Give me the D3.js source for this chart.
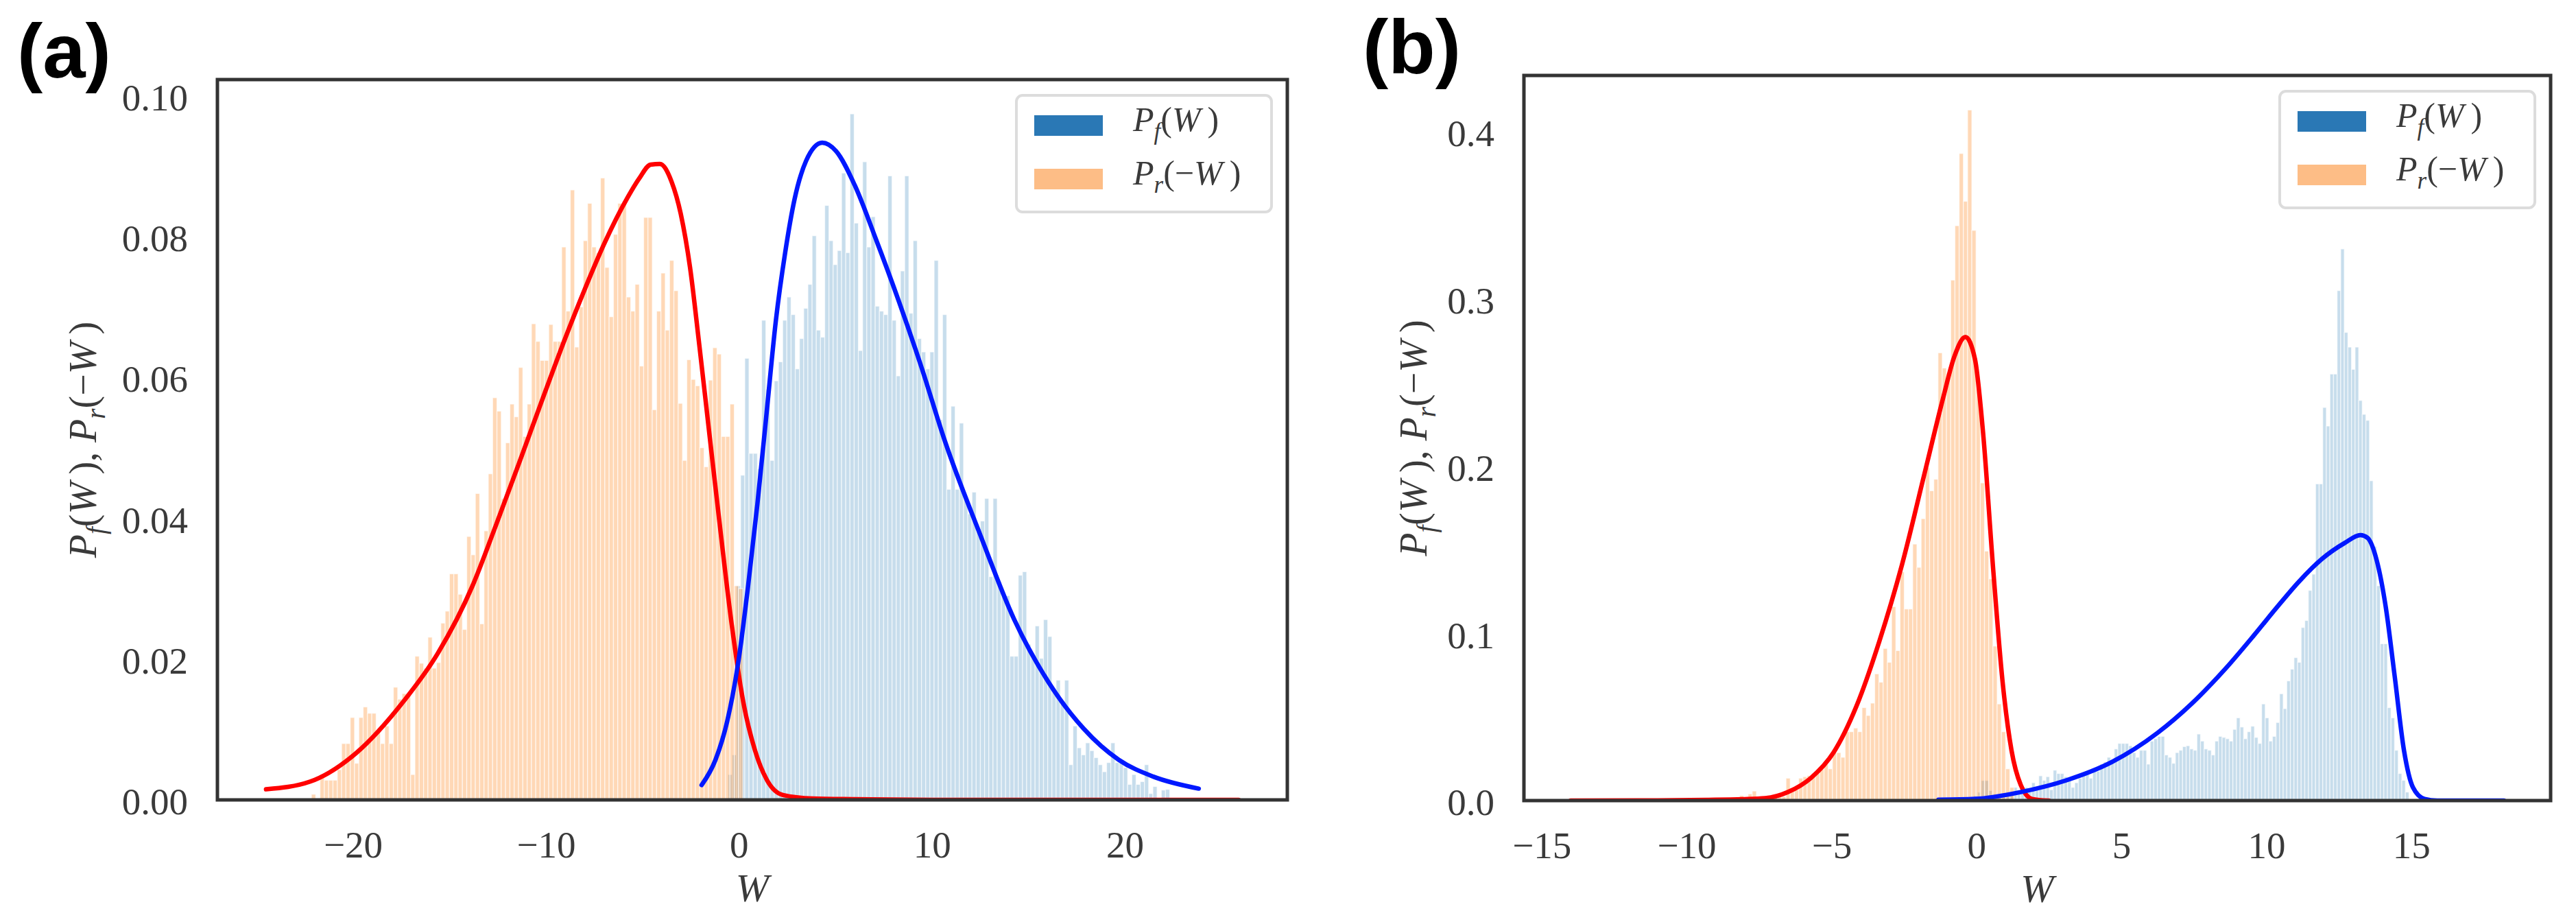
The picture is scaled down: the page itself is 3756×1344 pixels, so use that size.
<!DOCTYPE html>
<html>
<head>
<meta charset="utf-8">
<script src="https://cdn.jsdelivr.net/npm/d3@7"></script>
<style>
  html, body { margin: 0; padding: 0; background: #fff; }
  svg { display: block; }
</style>
</head>
<body>
<div id="chart"></div>
<script>
// ---------- values ----------

// tick values
var ticksAx = [-20, -10, 0, 10, 20];
var ticksAy = [0, 0.02, 0.04, 0.06, 0.08, 0.10];
var ticksBx = [-15, -10, -5, 0, 5, 10, 15];
var ticksBy = [0, 0.1, 0.2, 0.3, 0.4];

// panel (a) forward histogram P_f(W): left edge of first bin, bin width, heights
var histAfStart = -0.564, histAfWidth = 0.218;
var histAf = [0.0036, 0.0064, 0.0304,
  0.0461, 0.0627, 0.0492, 0.0492, 0.0470, 0.0681, 0.0583, 0.0482, 0.0595, 0.0622,
  0.0681, 0.0714, 0.0689, 0.0612, 0.0655, 0.0698, 0.0732, 0.0801, 0.0667, 0.0657,
  0.0844, 0.0794, 0.0760, 0.0780, 0.0890, 0.0777, 0.0974, 0.0819, 0.0638, 0.0906,
  0.0785, 0.0828, 0.0701, 0.0694, 0.0689, 0.0886, 0.0681, 0.0602, 0.0751, 0.0886,
  0.0691, 0.0794, 0.0655, 0.0636, 0.0612, 0.0636, 0.0766, 0.0540,
  0.0689, 0.0441, 0.0559, 0.0441, 0.0535, 0.0427, 0.0406, 0.0437, 0.0386, 0.0396,
  0.0428, 0.0317, 0.0428, 0.0310, 0.0290, 0.0290, 0.0204, 0.0204, 0.0319, 0.0324,
  0.0221, 0.0204, 0.0247, 0.0201, 0.0256, 0.0232, 0.0153, 0.0170, 0.0139, 0.0170,
  0.0050, 0.0105, 0.0074, 0.0064, 0.0081, 0.0070, 0.0060, 0.0050, 0.0040, 0.0053,
  0.0081, 0.0053, 0.0053, 0.0046, 0.0022, 0.0036, 0.0022, 0.0026, 0.0050, 0.0009,
  0.0019, 0, 0.0014, 0.0015];

// panel (a) reverse histogram P_r(-W)
var histArStart = -22.15, histArWidth = 0.2236;
var histAr = [0.0008, 0, 0.0036, 0.0028, 0.0028, 0.0028, 0.0043, 0.0080, 0.0080, 0.0117,
  0.0052, 0.0117, 0.0132, 0.0123, 0.0123, 0.0098, 0.0080, 0.0105, 0.0080, 0.0160,
  0.0143, 0.0151, 0.0151, 0.0036, 0.0204, 0.0194, 0.0187, 0.0231, 0.0187, 0.0195,
  0.0251, 0.0268, 0.0321, 0.0321, 0.0292, 0.0242, 0.0374, 0.0348, 0.0435, 0.0250,
  0.0382, 0.0463, 0.0571, 0.0552, 0.0428, 0.0507, 0.0562, 0.0544, 0.0614, 0.0516,
  0.0562, 0.0676, 0.0651, 0.0624, 0.0624, 0.0675, 0.0651, 0.0651, 0.0785, 0.0694,
  0.0866, 0.0643, 0.0700, 0.0794, 0.0847, 0.0785, 0.0777, 0.0883, 0.0756, 0.0686,
  0.0803, 0.0847, 0.0847, 0.0714, 0.0694, 0.0732, 0.0616, 0.0827, 0.0827, 0.0554,
  0.0694, 0.0748, 0.0667, 0.0766, 0.0723, 0.0563, 0.0482, 0.0625, 0.0597, 0.0588,
  0.0500, 0.0473, 0.0596, 0.0642, 0.0633, 0.0516, 0.0516, 0.0562, 0.0304, 0.0300];

// panel (a) smooth curves
var curveAfW = [-1.93, -1.21, -0.60, 0.00, 0.48, 0.96, 1.44, 1.92, 2.40, 2.88, 3.48, 4.32, 5.04,
  6.00, 7.09, 8.29, 9.49, 10.67, 12.47, 14.27, 16.07, 17.87, 19.68, 21.48, 23.83];
var curveAfP = [0.0021, 0.0057, 0.0112, 0.0201, 0.0304, 0.0420, 0.0550, 0.0681, 0.0777, 0.0852,
  0.0907, 0.0933, 0.0921, 0.0873, 0.0797, 0.0708, 0.0612, 0.0510, 0.0379, 0.0256, 0.0166,
  0.0101, 0.0057, 0.0033, 0.0016];
var curveArW = [-24.5, -22.21, -19.81, -17.40, -15.60, -13.80, -12.60, -11.39, -10.19, -8.99, -8.0,
  -6.97, -5.77, -5.17, -4.57, -4.09, -3.49, -3.01, -2.53, -2.05, -1.57, -0.97, -0.37, 0.23,
  0.84, 1.44, 2.28, 3.83, 6, 10, 15, 20, 25.9];
var curveArP = [0.0015, 0.0026, 0.0067, 0.0139, 0.0208, 0.0304, 0.0389, 0.0478, 0.0568, 0.0656,
  0.0724, 0.0790, 0.0855, 0.0882, 0.0902, 0.0903, 0.0878, 0.0832, 0.0756, 0.0646, 0.0530,
  0.0386, 0.0249, 0.0139, 0.0070, 0.0029, 0.0007, 0.0002, 0.0001, 0, 0, 0, 0];

// panel (b) forward histogram
var histBfStart = -0.08, histBfWidth = 0.124;
var histBf = [0.003, 0.005, 0.012, 0.012, 0.006, 0.004, 0.003, 0.004, 0.003, 0.004,
  0.005, 0.0079, 0.006, 0.0079, 0.0079, 0.005, 0.0107, 0.0065, 0.0148, 0.0121,
  0.0143, 0.0065, 0.0182, 0.0162, 0.0162, 0.0143, 0.0121, 0.0079, 0.0107, 0.0134,
  0.0162, 0.0162, 0.0134, 0.0190, 0.0176, 0.0218, 0.0231, 0.0259, 0.0245, 0.0309,
  0.0342, 0.0342, 0.0342, 0.0328, 0.0287, 0.0259, 0.0301, 0.0301, 0.0218, 0.0356,
  0.0370, 0.0384, 0.0384, 0.0273, 0.0259, 0.0223, 0.0287, 0.0301, 0.0323, 0.0328,
  0.0309, 0.0301, 0.0398, 0.0356, 0.0309,
  0.0301, 0.0273, 0.0356, 0.0384, 0.0378, 0.0370, 0.0356, 0.0426, 0.0495, 0.0440,
  0.0370, 0.0412, 0.0445, 0.0378, 0.0342, 0.0578, 0.0495, 0.0356, 0.0384, 0.0467,
  0.0639, 0.0550, 0.0716, 0.0786, 0.0855, 0.0827, 0.1035, 0.1077, 0.1257, 0.1354,
  0.1894, 0.1894, 0.2351, 0.2240, 0.2551, 0.2551, 0.3050, 0.3299, 0.2800, 0.2712,
  0.2579, 0.2712, 0.2393, 0.2310, 0.2274, 0.1913, 0.1520, 0.1285, 0.0938, 0.0938,
  0.0556, 0.0495, 0.0301, 0.0162, 0.0121, 0.0051];

// panel (b) reverse histogram
var histBrStart = -8.90, histBrWidth = 0.1457;
var histBr = [0.0008, 0.0010, 0, 0.0020, 0.0010, 0.0030, 0.0015,
  0.0040, 0.0057, 0.0020, 0.0015, 0.0020, 0.0028, 0.0020, 0.0030, 0.0024,
  0.0134, 0.0065, 0.0065, 0.0134, 0.0143, 0.0150, 0.0162, 0.0162,
  0.0190, 0.0218, 0.0190, 0.0287, 0.0287, 0.0259, 0.0412, 0.0412, 0.0434, 0.0412,
  0.0556, 0.0509, 0.0583, 0.0758, 0.0708, 0.0910, 0.0827, 0.1160, 0.0897, 0.1368,
  0.1146, 0.1146, 0.1534, 0.1395, 0.1686, 0.1991, 0.1853, 0.1922, 0.2678, 0.2587,
  0.2559, 0.3113, 0.3438, 0.3870, 0.3584, 0.4130,
  0.3410, 0.25, 0.19, 0.1492, 0.1326, 0.0924, 0.0578, 0.0412, 0.0190, 0.0079];

// panel (b) smooth curves
var curveBfW = [-1.31, -0.05, 1.53, 3.10, 4.68, 6.25, 7.43, 8.6, 9.56, 10.34, 11.13, 11.92,
  12.70, 13.25, 13.49, 13.81, 14.12, 14.43, 14.75, 15.06, 15.46, 15.9, 18.2];
var curveBfP = [0.0005, 0.0010, 0.0051, 0.0121, 0.0231, 0.0405, 0.0580, 0.0790, 0.0985,
  0.1150, 0.1310, 0.1445, 0.1540, 0.1588, 0.1572, 0.1437, 0.1160, 0.0744, 0.0301, 0.0079,
  0.0010, 0, 0];
var curveBrW = [-14.0, -11.0, -9.3, -8.08, -7.29, -6.50, -5.71, -4.93, -4.14, -3.35, -2.57, -1.78,
  -1.15, -0.76, -0.38, -0.05, 0.23, 0.58, 0.90, 1.21, 1.53, 1.92, 2.5];
var curveBrP = [0, 0.0001, 0.0004, 0.0008, 0.0014, 0.0051, 0.0135, 0.0287, 0.0564, 0.0952, 0.1409,
  0.1963, 0.2407, 0.2656, 0.2772, 0.2640, 0.2200, 0.1381, 0.0716, 0.0301, 0.0093, 0.0010, 0];

// ---------- drawing ----------

var width = 3756, height = 1344;
var serif = "'Liberation Serif', 'DejaVu Serif', serif";
var textColor = "#3a3a3a";

var svg = d3.select("#chart")
    .append("svg")
    .attr("width", width)
    .attr("height", height)
    .style("background-color", "#fff");

// math-style text: list of {t, it, sub} pieces
function mathText(sel, size, parts) {
    var shift = size * 0.24;
    var inSub = false;
    parts.forEach(function (p) {
        var ts = sel.append("tspan").text(p.t);
        if (p.it) ts.attr("font-style", "italic");
        if (p.sub && !inSub) { ts.attr("font-size", size * 0.7).attr("dy", shift); inSub = true; }
        else if (!p.sub && inSub) { ts.attr("dy", -shift); inSub = false; }
        else if (p.sub) ts.attr("font-size", size * 0.7);
    });
    return sel;
}

var labelPf = [{ t: "P", it: 1 }, { t: "f", it: 1, sub: 1 }, { t: "(" }, { t: "W", it: 1 }, { t: "\u2009)" }];
var labelPr = [{ t: "P", it: 1 }, { t: "r", it: 1, sub: 1 }, { t: "(\u2212" }, { t: "W", it: 1 }, { t: "\u2009)" }];
var labelY = labelPf.concat([{ t: ", " }], labelPr);

function minusFmt(fmt) {
    return function (v) { var s = fmt(Math.abs(v)); return v < 0 ? "\u2212" + s : s; };
}

function drawHist(g, x, y, start, binW, vals, color, op) {
    g.append("g").selectAll("rect")
        .data(vals)
        .join("rect")
        .attr("x", function (d, i) { return x(start + i * binW); })
        .attr("width", function (d, i) { return x(start + (i + 1) * binW) - x(start + i * binW); })
        .attr("y", function (d) { return y(d); })
        .attr("height", function (d) { return y(0) - y(d); })
        .attr("fill", color)
        .attr("fill-opacity", op)
        .attr("stroke", "#fff")
        .attr("stroke-width", 1.3)
        .attr("stroke-opacity", 0.65);
}

function drawPanel(p) {
    // autoscale like matplotlib: 5% margin on the curves, bars sticky at 0
    var allW = p.curveR[0].concat(p.curveF[0]);
    var lo = d3.min(allW), hi = d3.max(allW), pad = (hi - lo) * 0.05;
    var yMax = d3.max(p.histF[2].concat(p.histR[2])) * 1.05;

    var x = d3.scaleLinear().domain([lo - pad, hi + pad]).range([p.left, p.right]);
    var y = d3.scaleLinear().domain([0, yMax]).range([p.bottom, p.top]);

    var g = svg.append("g");
    var clipId = "clip" + p.name;
    g.append("clipPath").attr("id", clipId)
        .append("rect")
        .attr("x", p.left).attr("y", p.top)
        .attr("width", p.right - p.left).attr("height", p.bottom - p.top);

    var plot = g.append("g").attr("clip-path", "url(#" + clipId + ")");
    drawHist(plot, x, y, p.histF[0], p.histF[1], p.histF[2], "#1f77b4", 0.25);
    drawHist(plot, x, y, p.histR[0], p.histR[1], p.histR[2], "#ff7f0e", 0.3);

    var line = d3.line()
        .x(function (d) { return x(d[0]); })
        .y(function (d) { return y(d[1]); })
        .curve(d3.curveMonotoneX);

    plot.append("path")
        .datum(d3.zip(p.curveR[0], p.curveR[1]))
        .attr("fill", "none")
        .attr("stroke", "#ff0000")
        .attr("stroke-width", 6.5)
        .attr("stroke-linecap", "round")
        .attr("d", line);

    plot.append("path")
        .datum(d3.zip(p.curveF[0], p.curveF[1]))
        .attr("fill", "none")
        .attr("stroke", "#0018ff")
        .attr("stroke-width", 6.5)
        .attr("stroke-linecap", "round")
        .attr("d", line);

    // axes: no tick marks, only labels
    var xAxis = g.append("g")
        .attr("transform", "translate(0," + p.bottom + ")")
        .call(d3.axisBottom(x).tickValues(p.ticksX).tickSize(0).tickFormat(minusFmt(d3.format("d"))));
    xAxis.select(".domain").remove();
    xAxis.selectAll("text")
        .attr("y", 65)
        .attr("dy", "0.35em")
        .style("font-family", serif)
        .style("font-size", "55px")
        .style("fill", textColor);

    var yAxis = g.append("g")
        .attr("transform", "translate(" + p.left + ",0)")
        .call(d3.axisLeft(y).tickValues(p.ticksY).tickSize(0).tickPadding(43).tickFormat(d3.format(p.yFmt)));
    yAxis.select(".domain").remove();
    yAxis.selectAll("text")
        .attr("dy", "0.38em")
        .style("font-family", serif)
        .style("font-size", "55px")
        .style("fill", textColor);

    // axis titles
    g.append("text")
        .attr("x", (p.left + p.right) / 2)
        .attr("y", p.bottom + 128)
        .attr("dy", "0.35em")
        .attr("text-anchor", "middle")
        .style("font-family", serif)
        .style("font-size", "58px")
        .style("font-style", "italic")
        .style("fill", textColor)
        .text("W");

    var yl = g.append("text")
        .attr("transform", "translate(" + (p.left - p.yLabelOffset) + "," + ((p.top + p.bottom) / 2) + ") rotate(-90)")
        .attr("text-anchor", "middle")
        .attr("dy", "0.3em")
        .style("font-family", serif)
        .style("font-size", "56px")
        .style("fill", textColor);
    mathText(yl, 56, labelY);

    // legend
    var lw = 372, lh = 170;
    var lx = p.right - 23 - lw, ly = p.top + 23;
    var leg = g.append("g");
    leg.append("rect")
        .attr("x", lx).attr("y", ly)
        .attr("width", lw).attr("height", lh)
        .attr("rx", 9)
        .attr("fill", "#fff").attr("fill-opacity", 0.85)
        .attr("stroke", "#dcdcdc").attr("stroke-width", 4);

    var items = [
        { color: "#2a78b5", label: labelPf, cy: 44 },
        { color: "#fdbd86", label: labelPr, cy: 122 }
    ];
    items.forEach(function (it) {
        leg.append("rect")
            .attr("x", lx + 26).attr("y", ly + it.cy - 15)
            .attr("width", 100).attr("height", 30)
            .attr("fill", it.color);
        var t = leg.append("text")
            .attr("x", lx + 170).attr("y", ly + it.cy + 8)
            .style("font-family", serif)
            .style("font-size", "50px")
            .style("fill", textColor);
        mathText(t, 50, it.label);
    });

    // frame
    g.append("rect")
        .attr("x", p.left).attr("y", p.top)
        .attr("width", p.right - p.left).attr("height", p.bottom - p.top)
        .attr("fill", "none")
        .attr("stroke", "#333")
        .attr("stroke-width", 5);

    // panel tag
    svg.append("text")
        .attr("x", p.tagX).attr("y", p.tagY)
        .style("font-family", "'Liberation Sans', Arial, sans-serif")
        .style("font-weight", "bold")
        .style("font-size", "112px")
        .style("fill", "#000")
        .text(p.tag);
}

drawPanel({
    name: "a", tag: "(a)", tagX: 25, tagY: 113,
    left: 317, right: 1877, top: 116, bottom: 1166, yLabelOffset: 194,
    ticksX: ticksAx, ticksY: ticksAy, yFmt: ".2f",
    histF: [histAfStart, histAfWidth, histAf],
    histR: [histArStart, histArWidth, histAr],
    curveF: [curveAfW, curveAfP],
    curveR: [curveArW, curveArP]
});

drawPanel({
    name: "b", tag: "(b)", tagX: 1987, tagY: 107,
    left: 2222, right: 3719, top: 110, bottom: 1167, yLabelOffset: 159,
    ticksX: ticksBx, ticksY: ticksBy, yFmt: ".1f",
    histF: [histBfStart, histBfWidth, histBf],
    histR: [histBrStart, histBrWidth, histBr],
    curveF: [curveBfW, curveBfP],
    curveR: [curveBrW, curveBrP]
});
</script>
</body>
</html>
